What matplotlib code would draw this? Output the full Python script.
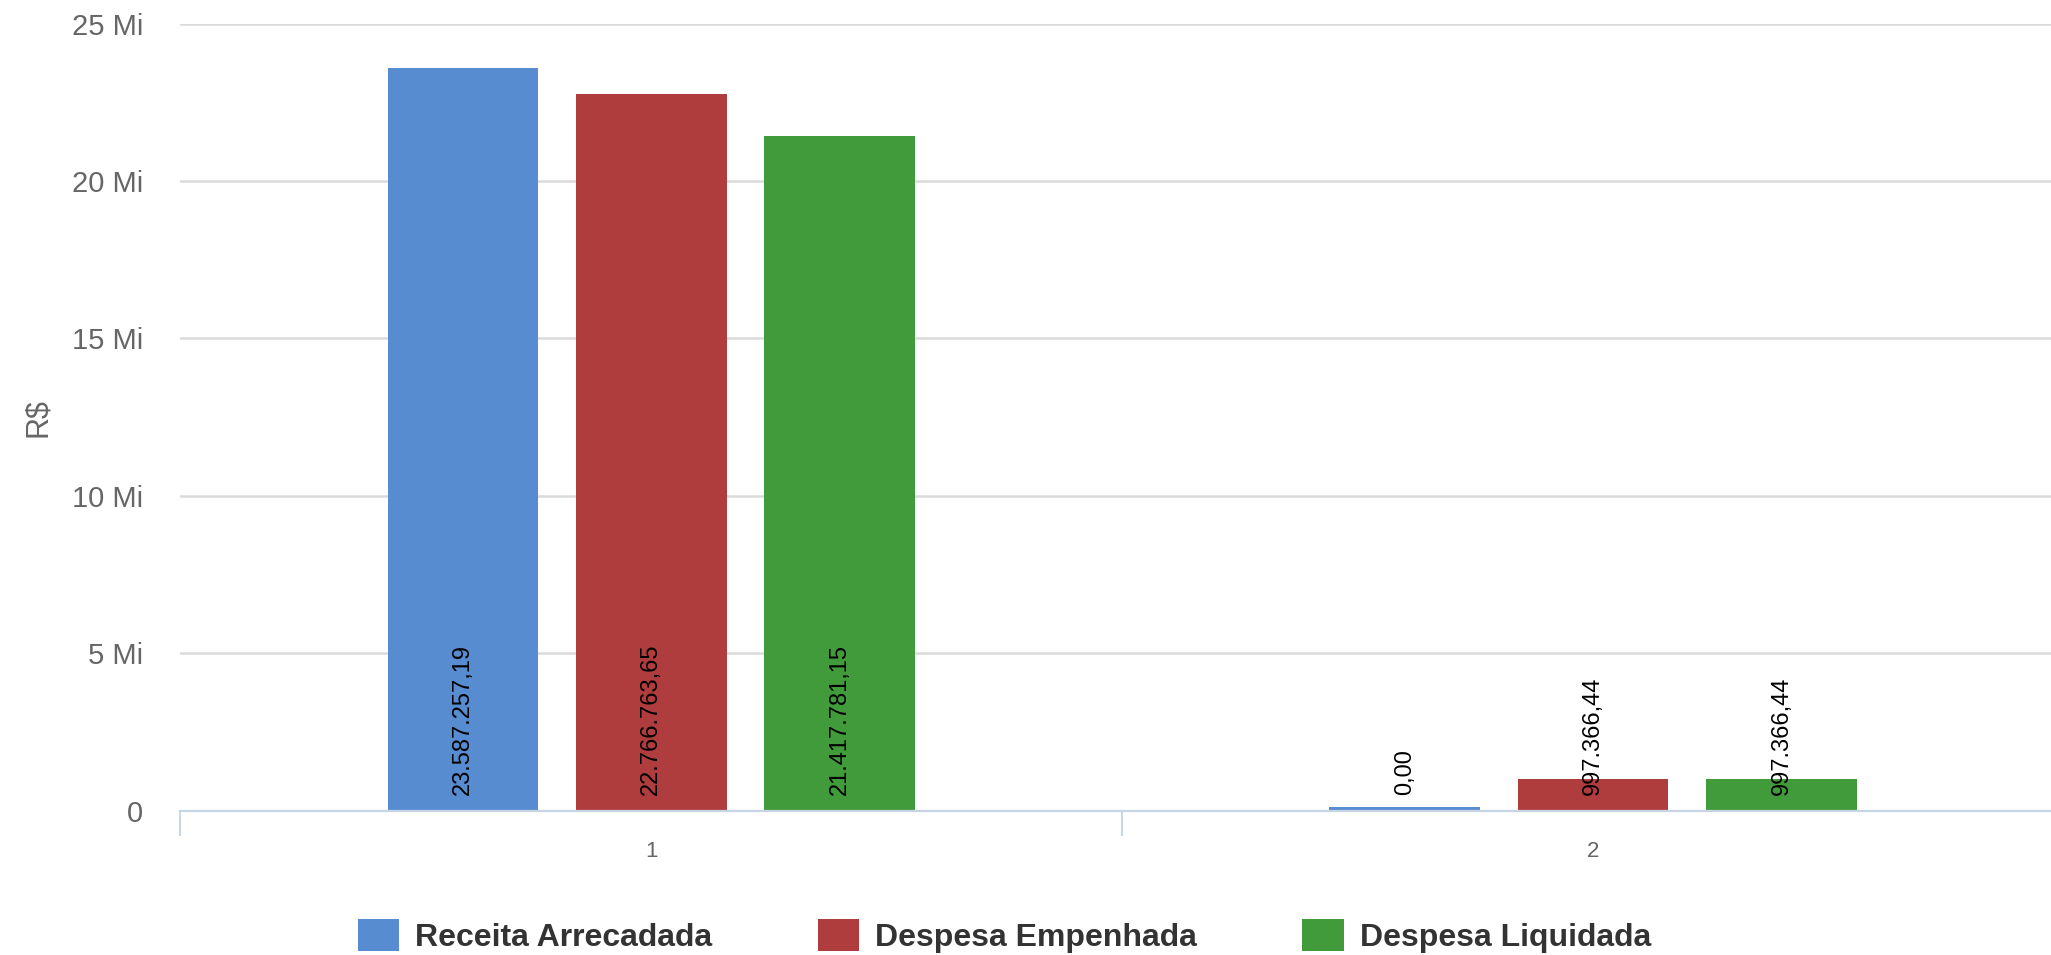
import matplotlib
matplotlib.use("Agg")
import matplotlib.pyplot as plt
from matplotlib.patches import Patch
from matplotlib.ticker import FuncFormatter, FixedLocator

plt.rcParams['font.family'] = ['Liberation Sans', 'DejaVu Sans']

# data
categories = ['1', '2']
series_names = ['Receita Arrecadada', 'Despesa Empenhada', 'Despesa Liquidada']
receita = [23587257.19, 0.00]
empenhada = [22766763.65, 997366.44]
liquidada = [21417781.15, 997366.44]
series_values = [receita, empenhada, liquidada]
colors = ['#588cd0', '#b03d3e', '#429b3a']
y_ticks = [0, 5e6, 10e6, 15e6, 20e6, 25e6]


def br_money(v):
    s = f"{v:,.2f}"
    return s.replace(',', 'X').replace('.', ',').replace('X', '.')


def mi_fmt(v, pos):
    if v == 0:
        return '0'
    return f"{v / 1e6:g} Mi"


fig = plt.figure(figsize=(20.51, 9.55), dpi=100)
ax = fig.add_axes([0.088, 0.1513, 0.9183, 0.824])

bar_w = 0.16
step = 0.2
min_h = 100000  # like minPointLength, so a zero bar still shows
x = list(range(len(categories)))
for i, (name, vals, c) in enumerate(zip(series_names, series_values, colors)):
    pos = [xi + (i - 1) * step for xi in x]
    heights = [max(v, min_h) for v in vals]
    ax.bar(pos, heights, width=bar_w, color=c, zorder=3, label=name)
    for p, v in zip(pos, vals):
        ax.annotate(br_money(v), (p, 0), xytext=(0, 11.5), textcoords='offset points',
                    rotation=90, ha='center', va='bottom', fontsize=17,
                    color='black', zorder=5)

ax.set_xlim(-0.5, len(categories) - 0.5)
ax.set_ylim(0, 25e6)
ax.yaxis.set_major_locator(FixedLocator(y_ticks))
ax.yaxis.set_major_formatter(FuncFormatter(mi_fmt))
ax.grid(axis='y', color='#dadada', linewidth=1.8, zorder=0)
ax.set_xticks(x)
ax.set_xticklabels(categories)
ax.set_xticks([-0.5, 0.5, 1.5], minor=True)

for s in ['top', 'right', 'left']:
    ax.spines[s].set_visible(False)
ax.spines['bottom'].set_color('#c6d4e4')
ax.spines['bottom'].set_linewidth(1.6)
ax.spines['bottom'].set_zorder(4)

ax.tick_params(axis='y', length=0, pad=27, labelsize=21, labelcolor='#666666')
ax.tick_params(axis='x', which='major', length=0, pad=22, labelsize=16, labelcolor='#666666')
ax.tick_params(axis='x', which='minor', length=18, width=1.4, color='#c6d4e4')

fig.text(0.0185, 0.5625, 'R$', rotation=90, ha='center', va='center',
         fontsize=22, color='#666666')

handles = [Patch(facecolor=c, edgecolor='none') for c in colors]
fig.legend(handles, series_names, loc='center', bbox_to_anchor=(0.4897, 0.02),
           ncol=3, frameon=False,
           prop={'weight': 'bold', 'size': 23}, labelcolor='#333333',
           handlelength=1.3, handleheight=1.15, handletextpad=0.5,
           columnspacing=3.3)

fig.savefig('out.png', dpi=100)
